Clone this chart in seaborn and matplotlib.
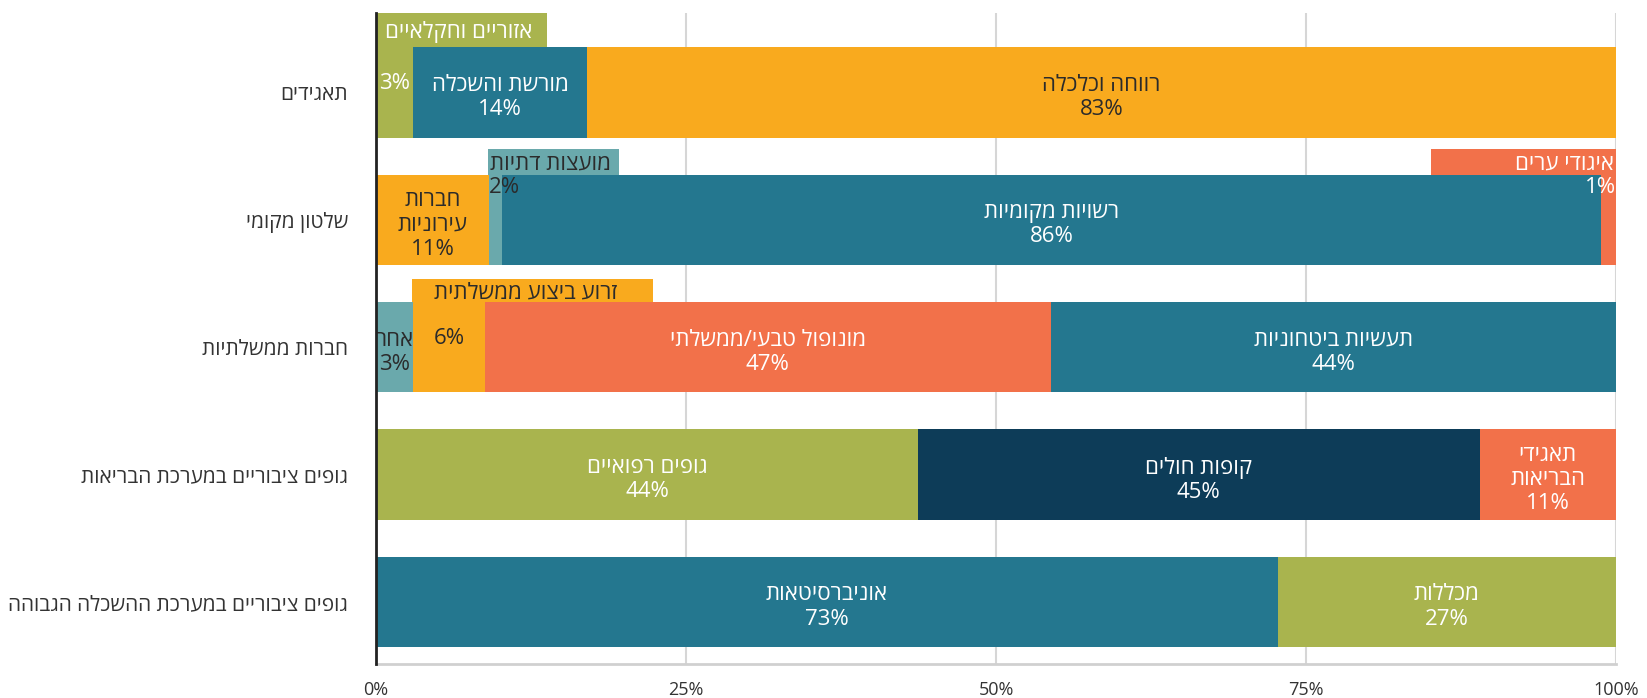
import numpy as np
import pandas as pd
import matplotlib
matplotlib.use('Agg')
import matplotlib.pyplot as plt
import seaborn as sns

# categories (top to bottom)
categories = ['תאגידים', 'שלטון מקומי', 'חברות ממשלתיות',
              'גופים ציבוריים במערכת הבריאות', 'גופים ציבוריים במערכת ההשכלה הגבוהה']

# segment names, widths (as drawn) and printed labels per row
seg_names = [
    ['אזוריים וחקלאיים', 'מורשת והשכלה', 'רווחה וכלכלה'],
    ['חברות\nעירוניות', 'מועצות דתיות', 'רשויות מקומיות', 'איגודי ערים'],
    ['אחר', 'זרוע ביצוע ממשלתית', 'מונופול טבעי/ממשלתי', 'תעשיות ביטחוניות'],
    ['גופים רפואיים', 'קופות חולים', 'תאגידי\nהבריאות'],
    ['אוניברסיטאות', 'מכללות'],
]
seg_values = [
    [3.0, 14.0, 83.0],
    [9.1, 1.1, 88.6, 1.2],
    [3.0, 5.8, 45.6, 45.6],
    [43.7, 45.3, 11.0],
    [72.7, 27.3],
]
seg_labels = [
    ['3%', '14%', '83%'],
    ['11%', '2%', '86%', '1%'],
    ['3%', '6%', '47%', '44%'],
    ['44%', '45%', '11%'],
    ['73%', '27%'],
]

# styling
OLIVE, TEAL, ORANGE, LTEAL, CORAL, NAVY = '#A9B44E', '#24778F', '#F9AA1E', '#6AA9AC', '#F2714A', '#0D3C58'
seg_colors = [
    [OLIVE, TEAL, ORANGE],
    [ORANGE, LTEAL, TEAL, CORAL],
    [LTEAL, ORANGE, CORAL, TEAL],
    [OLIVE, NAVY, CORAL],
    [TEAL, OLIVE],
]
DARK = '#2b2b2b'
text_col = {OLIVE: 'white', TEAL: 'white', CORAL: 'white', NAVY: 'white', ORANGE: DARK, LTEAL: DARK}
# name boxes above the bar: (row, seg) -> box x0, box x1, box height, text ha, text x, pct ha, pct dy
boxed = {
    (0, 0): (0.0, 13.8, 0.27, 'left', 0.7, 'center', -0.07),
    (1, 1): (9.06, 19.6, 0.2, 'left', 9.2, 'left', -0.25),
    (1, 3): (85.1, 100.0, 0.2, 'right', 99.85, 'right', -0.25),
    (2, 1): (2.88, 22.35, 0.18, 'center', 12.1, 'center', -0.07),
}


def rtl(s):
    return '\n'.join(line[::-1] for line in s.split('\n'))


sns.set_style('white')
plt.rcParams['font.family'] = ['Open Sans', 'DejaVu Sans']
FS = 16
FS_YTICK = 15
FS_XTICK = 13

fig = plt.figure(figsize=(16.47, 6.98), dpi=100)
ax = fig.add_axes([0.2283, 0.0487, 0.7529, 0.9332])

# long table of cumulative ends, drawn longest first so shorter ones cover
rows = []
for i, cat in enumerate(categories):
    cum = np.cumsum(seg_values[i])
    for j, v in enumerate(cum):
        rows.append({'cat': cat, 'layer': j, 'end': v, 'color': seg_colors[i][j]})
df = pd.DataFrame(rows)

BW = 0.71
for layer in sorted(df['layer'].unique(), reverse=True):
    d = df[df['layer'] == layer]
    pal = dict(zip(d['cat'], d['color']))
    sns.barplot(data=d, x='end', y='cat', hue='cat', order=categories, hue_order=list(pal),
                palette=pal, orient='h', width=BW, dodge=False, legend=False,
                saturation=1, linewidth=0, ax=ax)

for i in range(len(categories)):
    start = 0.0
    for j, v in enumerate(seg_values[i]):
        col = seg_colors[i][j]
        tc = text_col[col]
        mid = start + v / 2
        if (i, j) in boxed:
            x0, x1, h, tha, tx, pha, pdy = boxed[(i, j)]
            top = i - BW / 2
            ax.barh(top - h / 2, x1 - x0, left=x0, height=h, color=col, lw=0, zorder=3)
            ax.text(tx, top - h / 2, rtl(seg_names[i][j]), ha=tha, va='center_baseline',
                    fontsize=FS, color=tc, zorder=4)
            px = {'left': start, 'center': mid, 'right': start + v}[pha]
            ax.text(px, i + pdy, seg_labels[i][j], ha=pha, va='center',
                    fontsize=FS, color=tc, zorder=4)
        else:
            ax.text(mid, i + 0.04, rtl(seg_names[i][j]) + '\n' + seg_labels[i][j],
                    ha='center', va='center', fontsize=FS, color=tc, linespacing=1.2, zorder=4)
        start += v

ax.set_xlim(0, 100)
ax.set_ylim(4.487, -0.626)
ax.set_xticks([0, 25, 50, 75, 100])
ax.set_xticklabels(['0%', '25%', '50%', '75%', '100%'])
ax.set_yticks(range(len(categories)))
ax.set_yticklabels([rtl(c) for c in categories])
ax.set_xlabel('')
ax.set_ylabel('')
ax.tick_params(axis='both', length=0, colors='#333333')
ax.tick_params(axis='y', pad=20, labelsize=FS_YTICK)
ax.tick_params(axis='x', pad=12, labelsize=FS_XTICK)
ax.grid(axis='x', color='#d6d6d6', lw=1.5)
ax.set_axisbelow(True)
for s in ['top', 'right']:
    ax.spines[s].set_visible(False)
ax.spines['left'].set_color('#222222')
ax.spines['left'].set_linewidth(2)
ax.spines['left'].set_zorder(5)
ax.spines['bottom'].set_color('#d0d0d0')
ax.spines['bottom'].set_linewidth(2)

fig.savefig('out.png', dpi=100)
